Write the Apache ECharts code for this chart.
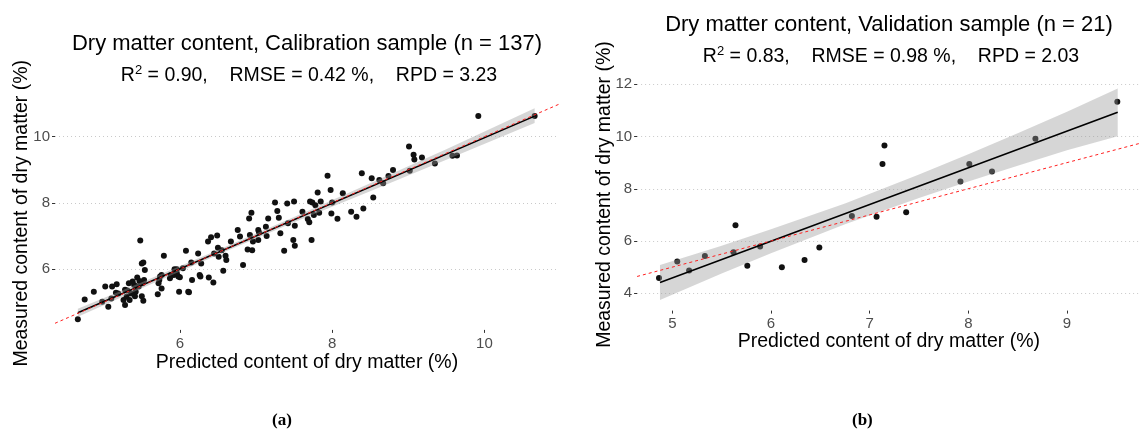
<!DOCTYPE html>
<html>
<head>
<meta charset="utf-8">
<script src="https://cdn.jsdelivr.net/npm/echarts@6/dist/echarts.min.js"></script>
<style>
  html, body { margin: 0; padding: 0; background: #fff; }
  #chart { width: 1141px; height: 432px; }
</style>
</head>
<body>
<div id="chart"></div>
<script>
// ---- Calibration sample (n = 137): predicted vs measured dry matter (%) ----
const calPredicted = [
  4.66, 4.75, 4.87, 4.98, 5.02, 5.06, 5.10, 5.11, 5.17, 5.16,
  5.26, 5.28, 5.30, 5.28, 5.31, 5.38, 5.40, 5.41, 5.42, 5.44,
  5.46, 5.48, 5.50, 5.52, 5.54, 5.50, 5.52, 5.51, 5.47, 5.43,
  5.53, 5.36, 5.33, 5.71, 5.72, 5.73, 5.76, 5.76, 5.79, 5.88,
  5.92, 5.93, 5.96, 5.98, 5.99, 6.00, 6.08, 6.11, 6.12, 6.16,
  6.15, 6.24, 6.26, 6.28, 6.27, 6.37, 6.38, 6.41, 6.44, 6.49,
  6.50, 6.51, 6.57, 6.60, 6.61, 6.76, 6.83, 6.89, 6.91, 6.92,
  6.94, 6.95, 6.96, 7.03, 7.04, 7.14, 7.16, 7.25, 7.28, 7.30,
  7.32, 7.37, 7.41, 7.49, 7.50, 7.51, 7.51, 7.68, 7.70, 7.71,
  7.73, 7.74, 7.76, 7.78, 7.81, 7.83, 7.94, 7.98, 7.99, 8.00,
  8.07, 8.25, 8.32, 8.39, 8.41, 8.52, 8.54, 8.62, 8.74, 8.80,
  9.01, 9.02, 9.07, 9.08, 9.18, 9.58, 9.64, 9.92, 10.66, 5.19,
  5.34, 5.74, 5.87, 5.96, 6.04, 6.45, 6.55, 6.67, 6.79, 7.03,
  7.13, 7.42, 7.61, 7.85, 8.14, 8.67, 9.35
];
const calMeasured = [
  4.48, 5.08, 5.31, 5.01, 5.47, 4.86, 5.11, 5.47, 5.54, 5.28,
  5.06, 4.91, 5.16, 5.37, 5.35, 5.62, 5.52, 5.18, 5.31, 5.74,
  5.47, 6.86, 6.17, 6.20, 5.97, 5.18, 5.04, 5.57, 5.64, 5.47,
  5.67, 5.26, 5.57, 5.24, 5.57, 5.67, 5.41, 5.82, 6.40, 5.82,
  5.82, 5.99, 5.99, 5.77, 5.31, 5.75, 6.55, 5.31, 5.30, 5.67,
  6.20, 6.47, 5.82, 6.17, 5.77, 6.83, 5.74, 6.96, 5.59, 7.01,
  6.64, 6.37, 5.95, 6.40, 6.27, 7.18, 6.12, 6.59, 7.53, 7.03,
  7.70, 6.57, 6.83, 6.88, 7.10, 7.00, 7.53, 8.01, 7.75, 7.55,
  7.08, 6.55, 7.98, 6.88, 8.04, 7.31, 6.70, 7.51, 7.41, 8.04,
  6.88, 8.01, 7.63, 7.93, 8.31, 7.70, 8.82, 8.39, 7.68, 8.01,
  7.52, 7.73, 7.58, 8.89, 7.83, 8.74, 8.16, 8.69, 8.81, 8.99,
  9.70, 8.97, 9.45, 9.31, 9.37, 9.42, 9.43, 10.62, 10.62, 5.26,
  5.06, 5.77, 5.72, 5.87, 6.02, 6.47, 6.57, 6.83, 6.98, 7.18,
  7.28, 7.38, 7.73, 8.04, 8.29, 8.59, 9.19
];
// fitted linear model and its 95 % confidence band
const calFitX = [4.66, 10.66];
const calFitY = [4.68, 10.62];
const calBandX  = [4.66, 5.5, 6.6, 7.5, 8.5, 9.5, 10.66];
const calBandLo = [4.56, 5.42, 6.53, 7.41, 8.35, 9.30, 10.41];
const calBandHi = [4.80, 5.60, 6.67, 7.57, 8.59, 9.62, 10.86];
const calXRange = [4.36, 10.98];
const calYRange = [4.16, 11.21];
const calXTicks = [6, 8, 10];
const calYTicks = [6, 8, 10];

// ---- Validation sample (n = 21) ----
const valPredicted = [
  4.865, 5.05, 5.17, 5.33, 5.62, 5.64, 5.76, 5.89, 6.11, 6.34,
  6.49, 6.82, 7.07, 7.13, 7.15, 7.37, 7.92, 8.01, 8.24, 8.68, 9.51
];
const valMeasured = [
  4.58, 5.22, 4.87, 5.43, 5.57, 6.60, 5.05, 5.79, 5.00, 5.27,
  5.75, 6.96, 6.93, 8.95, 9.66, 7.10, 8.28, 8.95, 8.66, 9.91, 11.33
];
const valFitX = [4.875, 9.514];
const valFitY = [4.41, 10.93];
const valBandX  = [4.875, 5.5, 6.0, 6.75, 7.5, 8.0, 8.5, 9.0, 9.514];
const valBandLo = [3.74, 4.76, 5.53, 6.64, 7.65, 8.28, 8.88, 9.47, 10.01];
const valBandHi = [5.08, 5.82, 6.45, 7.44, 8.55, 9.32, 10.12, 10.95, 11.84];
const valXRange = [4.643, 9.746];
const valYRange = [3.336, 12.224];
const valXTicks = [5, 6, 7, 8, 9];
const valYTicks = [4, 6, 8, 10, 12];

const FONT = '"Liberation Sans", Arial, sans-serif';
const zip = (a, b) => a.map((v, i) => [v, b[i]]);

function bandSeries(idx, xs, lo, hi) {
  return {
    type: 'custom',
    xAxisIndex: idx, yAxisIndex: idx,
    z: 3,
    silent: true,
    data: [[xs[0], lo[0]]],
    renderItem: function (params, api) {
      const pts = [];
      for (let i = 0; i < xs.length; i++) pts.push(api.coord([xs[i], hi[i]]));
      for (let i = xs.length - 1; i >= 0; i--) pts.push(api.coord([xs[i], lo[i]]));
      return {
        type: 'polygon',
        shape: { points: pts },
        style: { fill: 'rgba(153,153,153,0.4)', stroke: null }
      };
    }
  };
}

function xAxisDef(idx, range, ticks, nameGap) {
  return {
    type: 'value', gridIndex: idx, min: range[0], max: range[1],
    name: 'Predicted content of dry matter (%)',
    nameLocation: 'middle', nameGap: nameGap, nameMoveOverlap: false,
    nameTextStyle: { fontFamily: FONT, fontSize: 19.5, color: '#000' },
    axisLine: { show: false },
    axisTick: { show: true, length: 3, customValues: ticks, lineStyle: { color: '#333', width: 1 } },
    axisLabel: { customValues: ticks, margin: 6, fontFamily: FONT, fontSize: 15, color: '#4d4d4d' },
    splitLine: { show: false }
  };
}

function yAxisDef(idx, range, ticks, nameGap) {
  return {
    type: 'value', gridIndex: idx, min: range[0], max: range[1],
    name: 'Measured content of dry matter (%)',
    nameLocation: 'middle', nameGap: nameGap, nameMoveOverlap: false,
    nameTextStyle: { fontFamily: FONT, fontSize: 19.5, color: '#000' },
    axisLine: { show: false },
    axisTick: { show: true, length: 3, customValues: ticks, lineStyle: { color: '#333', width: 1 } },
    axisLabel: { customValues: ticks, margin: 5, fontFamily: FONT, fontSize: 15, color: '#4d4d4d' },
    splitLine: { show: true, lineStyle: { color: '#c9c9c9', width: 1, type: [1, 3] } }
  };
}

function panelSeries(idx, px, py, fx, fy, bx, blo, bhi, xr) {
  return [
    {
      type: 'scatter', xAxisIndex: idx, yAxisIndex: idx, z: 2,
      symbolSize: 6, itemStyle: { color: '#111', opacity: 1 },
      data: zip(px, py), silent: true
    },
    bandSeries(idx, bx, blo, bhi),
    {
      type: 'line', xAxisIndex: idx, yAxisIndex: idx, z: 4,
      symbol: 'none', silent: true,
      lineStyle: { color: '#000', width: 1.6 },
      data: zip(fx, fy)
    },
    {
      // identity line y = x across the panel
      type: 'line', xAxisIndex: idx, yAxisIndex: idx, z: 5,
      symbol: 'none', silent: true, clip: true,
      lineStyle: { color: '#ff2020', width: 1, type: [3, 3] },
      data: [[xr[0], xr[0]], [xr[1], xr[1]]]
    }
  ];
}

const titleStyle = { fontFamily: FONT, fontSize: 22, fontWeight: 'normal', color: '#000' };
const statStyle = {
  fontFamily: FONT, fontSize: 19.5, fontWeight: 'normal', color: '#000', lineHeight: 24,
  rich: { s: { fontFamily: FONT, fontSize: 13, color: '#000', verticalAlign: 'top', lineHeight: 24 } }
};

const chart = echarts.init(document.getElementById('chart'), null, { renderer: 'canvas' });

chart.setOption({
  animation: false,
  backgroundColor: '#fff',
  textStyle: { fontFamily: FONT },
  title: [
    { text: 'Dry matter content, Calibration sample (n = 137)', left: 307, top: 33, textAlign: 'center', padding: 0,
      textStyle: titleStyle },
    { text: 'R{s|2} = 0.90,    RMSE = 0.42 %,    RPD = 3.23', left: 309, top: 64, textAlign: 'center', padding: 0,
      textStyle: statStyle },
    { text: 'Dry matter content, Validation sample (n = 21)', left: 889, top: 14, textAlign: 'center', padding: 0,
      textStyle: titleStyle },
    { text: 'R{s|2} = 0.83,    RMSE = 0.98 %,    RPD = 2.03', left: 891, top: 45, textAlign: 'center', padding: 0,
      textStyle: statStyle }
  ],
  grid: [
    { left: 55, top: 96.6, width: 504, height: 233.3, containLabel: false },
    { left: 637.1, top: 78.4, width: 503.5, height: 232.2, containLabel: false }
  ],
  xAxis: [
    xAxisDef(0, calXRange, calXTicks, 23),
    xAxisDef(1, valXRange, valXTicks, 21)
  ],
  yAxis: [
    yAxisDef(0, calYRange, calYTicks, 23),
    yAxisDef(1, valYRange, valYTicks, 22)
  ],
  graphic: [
    { type: 'text', left: 272, top: 412, style: { text: '(a)', font: 'bold 17px "Liberation Serif", "DejaVu Serif", serif', fill: '#000' } },
    { type: 'text', left: 852, top: 412, style: { text: '(b)', font: 'bold 17px "Liberation Serif", "DejaVu Serif", serif', fill: '#000' } }
  ],
  series: [].concat(
    panelSeries(0, calPredicted, calMeasured, calFitX, calFitY, calBandX, calBandLo, calBandHi, calXRange),
    panelSeries(1, valPredicted, valMeasured, valFitX, valFitY, valBandX, valBandLo, valBandHi, valXRange)
  )
});
</script>
</body>
</html>
